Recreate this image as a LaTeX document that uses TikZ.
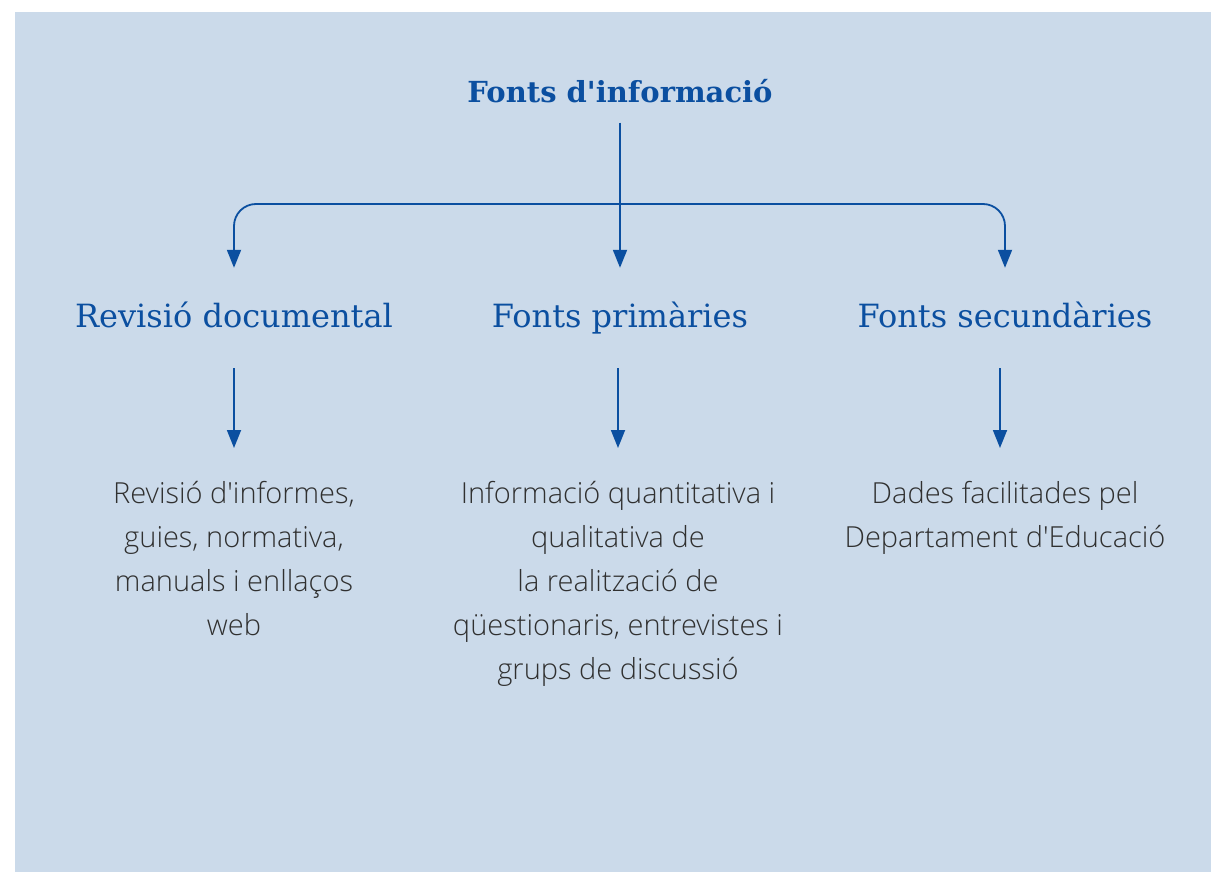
\documentclass[tikz,border=0pt]{standalone}
\usepackage{fontspec}
\usetikzlibrary{arrows.meta}
\newfontfamily\headfont{DejaVu Serif}
\newfontfamily\bodyfont{Open Sans}[UprightFont=* Light]
\definecolor{bgblue}{HTML}{CBDAEA}
\definecolor{darkblue}{HTML}{0B4FA0}
\definecolor{bodygray}{HTML}{303030}
\tikzset{
  titlebox/.style = {inner sep=0pt, anchor=base, text=darkblue, font=\headfont\bfseries\fontsize{29}{34}\selectfont},
  headbox/.style = {inner sep=0pt, anchor=base, text=darkblue, text height=24pt, text depth=8pt, font=\headfont\fontsize{32}{38}\selectfont},
  bodybox/.style = {inner sep=0pt, anchor=north, align=center, text=bodygray, font=\bodyfont\fontsize{29}{44}\selectfont},
  arr/.style = {draw=darkblue, line width=1.8pt, -{Triangle[length=18pt, width=14pt]}}
}
\begin{document}
\begin{tikzpicture}[x=1pt, y=-1pt]
\useasboundingbox (0,0) rectangle (1211,872);
\fill[bgblue] (15,12) rectangle (1211,872);
\node[titlebox] (fonts) at (620,103) {Fonts d'informació};
\node[headbox] (revisio) at (234,327) {Revisió documental};
\node[headbox] (primaries) at (620,327) {Fonts primàries};
\node[headbox] (secundaries) at (1005,327) {Fonts secundàries};
\node[bodybox] (revtext) at (234,481) {Revisió d'informes,\\guies, normativa,\\manuals i enllaços\\web};
\node[bodybox] (primtext) at (618,481) {Informació quantitativa i\\qualitativa de\\la realització de\\qüestionaris, entrevistes i\\grups de discussió};
\node[bodybox] (sectext) at (1005,481) {Dades facilitades pel\\Departament d'Educació};
\coordinate (split) at (620,204);
% branches from the title
\draw[arr, shorten <=19pt, shorten >=35pt] (fonts.south) -- (primaries.north);
\draw[arr, rounded corners=22pt, shorten >=35pt] (split) -| (revisio.north);
\draw[arr, rounded corners=22pt, shorten >=35pt] (split) -| (secundaries.north);
% down to the texts
\draw[arr, shorten <=33pt, shorten >=33pt] (revisio.south) -- (revisio.south |- revtext.north);
\draw[arr, shorten <=33pt, shorten >=33pt] (primtext.north |- primaries.south) -- (primtext.north);
\draw[arr, shorten <=33pt, shorten >=33pt] ([xshift=-5pt]secundaries.south) -- ([xshift=-5pt]secundaries.south |- sectext.north);
\end{tikzpicture}
\end{document}
